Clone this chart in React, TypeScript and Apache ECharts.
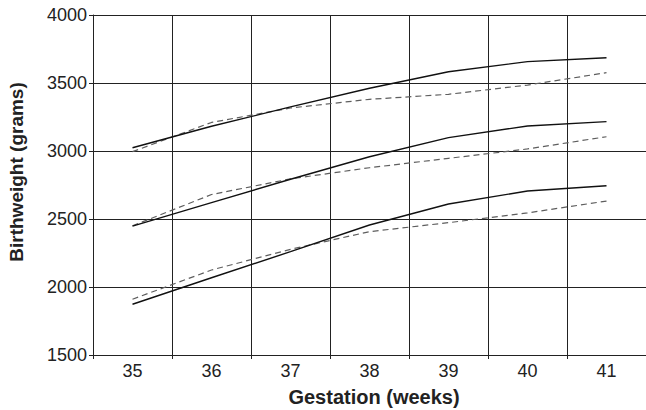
import React, { useEffect, useRef } from "react";
import * as echarts from "echarts";

const weeks = ["35", "36", "37", "38", "39", "40", "41"];
const upperSolid = [3024, 3182, 3324, 3461, 3583, 3657, 3686];
const upperDashed = [2995, 3210, 3316, 3380, 3417, 3485, 3576];
const middleSolid = [2448, 2620, 2792, 2958, 3098, 3184, 3216];
const middleDashed = [2450, 2680, 2795, 2877, 2946, 3015, 3105];
const lowerSolid = [1873, 2068, 2260, 2456, 2610, 2706, 2745];
const lowerDashed = [1910, 2125, 2277, 2407, 2473, 2545, 2632];

const xTitle = "Gestation (weeks)";
const yTitle = "Birthweight (grams)";

export default function App() {
  const ref = useRef<HTMLDivElement>(null);
  useEffect(() => {
    if (!ref.current) return;
    const chart = echarts.init(ref.current, undefined, { renderer: "svg" });
    const font = "Liberation Sans, Arial, sans-serif";
    const solid = (data: number[]) => ({
      type: "line",
      data,
      symbol: "none",
      lineStyle: { color: "#111", width: 1.4, type: "solid" },
      z: 3,
    });
    const dashed = (data: number[]) => ({
      type: "line",
      data,
      symbol: "none",
      lineStyle: { color: "#5e5e5e", width: 1.2, type: [6, 4] },
      z: 2,
    });
    chart.setOption({
      animation: false,
      backgroundColor: "#fff",
      grid: { left: 93, top: 15, width: 561, height: 340, containLabel: false },
      xAxis: {
        type: "category",
        data: weeks,
        boundaryGap: true,
        axisLine: { show: true, lineStyle: { color: "#222", width: 1 } },
        axisTick: { show: true, length: 4, lineStyle: { color: "#222" } },
        axisLabel: { color: "#222", fontSize: 18, fontFamily: font, margin: 7 },
        splitLine: { show: true, lineStyle: { color: "#222", width: 1 } },
      },
      yAxis: {
        type: "value",
        min: 1500,
        max: 4000,
        interval: 500,
        axisLine: { show: true, lineStyle: { color: "#222", width: 1 } },
        axisTick: { show: true, length: 4, lineStyle: { color: "#222" } },
        axisLabel: {
          color: "#222",
          fontSize: 18,
          fontFamily: font,
          margin: 6,
          formatter: (v: number) => String(v),
        },
        splitLine: { show: true, lineStyle: { color: "#222", width: 1 } },
      },
      graphic: [
        {
          type: "text",
          x: 374,
          y: 397,
          style: {
            text: xTitle,
            font: `bold 20px ${font}`,
            fill: "#222",
            align: "center",
            verticalAlign: "middle",
          },
        },
        {
          type: "text",
          x: 16,
          y: 172,
          rotation: Math.PI / 2,
          style: {
            text: yTitle,
            font: `bold 19px ${font}`,
            fill: "#222",
            align: "center",
            verticalAlign: "middle",
          },
        },
      ],
      series: [
        dashed(upperDashed),
        dashed(middleDashed),
        dashed(lowerDashed),
        solid(upperSolid),
        solid(middleSolid),
        solid(lowerSolid),
      ],
    });
    return () => chart.dispose();
  }, []);
  return (
    <div
      ref={ref}
      style={{ position: "absolute", left: 0, top: 0, width: 646, height: 410 }}
    />
  );
}
